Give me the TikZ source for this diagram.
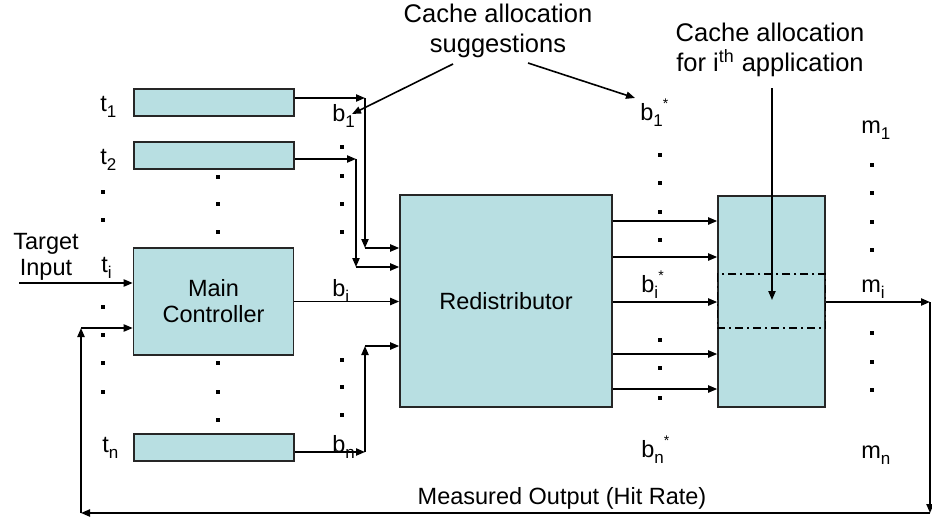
\documentclass[tikz,border=0pt]{standalone}
\usepackage{fontspec}
\setmainfont{Liberation Sans}
\usetikzlibrary{arrows.meta}

\definecolor{boxfill}{RGB}{184,223,226}
\newcommand{\lo}[1]{\raisebox{-3.2pt}{\fontsize{8.5}{9}\selectfont #1}}
\newcommand{\st}{\raisebox{6pt}{\fontsize{7}{7}\selectfont *}}
\tikzset{
  blk/.style={draw=black!85, fill=boxfill, line width=0.8pt, inner sep=0pt},
  lbl/.style={inner sep=0pt, font=\fontsize{11.75}{13}\selectfont},
  note/.style={inner sep=0pt, align=center, font=\fontsize{12.75}{15}\selectfont},
  arr/.style={-{Triangle[length=4.5pt,width=3.6pt]}, line width=0.8pt},
}

\begin{document}
\begin{tikzpicture}[x=0.5pt,y=-0.5pt]
  \useasboundingbox (0,0) rectangle (932,520);

  \node[blk, minimum width=80pt, minimum height=13.5pt] (t1) at (214,102.5) {};
  \node[blk, minimum width=80pt, minimum height=13.5pt] (t2) at (214,155.5) {};
  \node[blk, lbl, align=center, minimum width=80pt, minimum height=53.5pt] (main) at (213.5,301.5) {Main\\Controller};
  \node[blk, minimum width=80pt, minimum height=13.5pt] (tn) at (214,447.5) {};
  \node[blk, lbl, minimum width=106pt, minimum height=106pt] (redis) at (506,301) {Redistributor};
  \node[blk, minimum width=53.5pt, minimum height=105.5pt] (cache) at (771.5,301.5) {};
  \draw[line width=0.6pt, dash pattern=on 4pt off 2pt on 1pt off 2pt]
    (cache.west |- 0,274) rectangle (cache.east |- 0,328);

  \node[lbl, anchor=base west] (lt1) at (100,111) {t\lo{1}};
  \node[lbl, anchor=base west] (lt2) at (100,164) {t\lo{2}};
  \node[lbl, anchor=base west] (lti) at (101,272) {t\lo{i}};
  \node[lbl, anchor=base west] (ltn) at (102,452) {t\lo{n}};
  \node[lbl, anchor=base west] (lb1) at (332,121) {b\lo{1}};
  \node[lbl, anchor=base west] (lbi) at (332,296) {b\lo{i}};
  \node[lbl, anchor=base west] (lbn) at (332,452) {b\lo{n}};
  \node[lbl, anchor=base west] (ls1) at (640,120) {b\lo{1}\st};
  \node[lbl, anchor=base west] (lsi) at (641,292) {b\lo{i}\st};
  \node[lbl, anchor=base west] (lsn) at (641,457) {b\lo{n}\st};
  \node[lbl, anchor=base west] (lm1) at (861,133) {m\lo{1}};
  \node[lbl, anchor=base west] (lmi) at (861,292) {m\lo{i}};
  \node[lbl, anchor=base west] (lmn) at (861,458) {m\lo{n}};

  \node[lbl, align=center] (target) at (46,257) {Target\\Input};
  \node[lbl] (meas) at (562,498) {Measured Output (Hit Rate)};
  \node[note] (sugg) at (498,31) {Cache allocation\\suggestions};
  \node[note] (alloc) at (770,50) {Cache allocation\\for i\textsuperscript{th} application};

  % vertical dots
  \foreach \xx/\ylist in {103/{192,220,307,335,363,392}, 218/{177,204,232,363,392,420},
      342/{147,176,204,232,360,387,415}, 660/{155,183,212,240,340,368,398},
      872/{165,193,222,250,333,362,390}}
    \foreach \yy in \ylist
      \fill (\xx-1.75,\yy-1.75) rectangle ++(3.5,3.5);

  % suggestions into the redistributor
  \coordinate (k1) at (365,98);
  \coordinate (k1b) at (365,248);
  \coordinate (k2) at (356,159);
  \coordinate (k2b) at (356,267);
  \coordinate (kn) at (365,452);
  \coordinate (knb) at (365,346);
  \draw[arr] (t1.east |- k1) -- (k1);
  \draw[arr] (k1) -- (k1b);
  \draw[arr] (k1b) -- (redis.west |- k1b);
  \draw[arr] (t2.east |- k2) -- (k2);
  \draw[arr] (k2) -- (k2b);
  \draw[arr] (k2b) -- (redis.west |- k2b);
  \draw[arr] (main.east) -- (redis.west |- main.east);
  \draw[arr] (tn.east |- kn) -- (kn);
  \draw[arr] (kn) -- (knb);
  \draw[arr] (knb) -- (redis.west |- knb);

  \foreach \yy in {221,257,302,354,389}
    \draw[arr] (redis.east |- 0,\yy) -- (cache.west |- 0,\yy);

  % feedback loop
  \coordinate (o1) at (930,302);
  \coordinate (o2) at (930,513);
  \coordinate (f1) at (81,513);
  \coordinate (f2) at (81,328);
  \coordinate (tin) at (19,283);
  \draw[arr] (cache.east |- o1) -- (o1);
  \draw[arr] (o1) -- (o2);
  \draw[arr] (o2) -- (f1);
  \draw[arr] (f1) -- (f2);
  \draw[arr] (f2) -- (main.west |- f2);
  \draw[arr] (tin) -- (main.west |- tin);

  % callouts
  \coordinate (s1) at (453,64);
  \coordinate (s1e) at (352,114);
  \coordinate (s2) at (528,63);
  \coordinate (s2e) at (635,98);
  \coordinate (a1) at (772,88);
  \coordinate (a2) at (772,300);
  \draw[arr] (s1) -- (s1e);
  \draw[arr] (s2) -- (s2e);
  \draw[arr] (a1) -- (a2);
\end{tikzpicture}
\end{document}
